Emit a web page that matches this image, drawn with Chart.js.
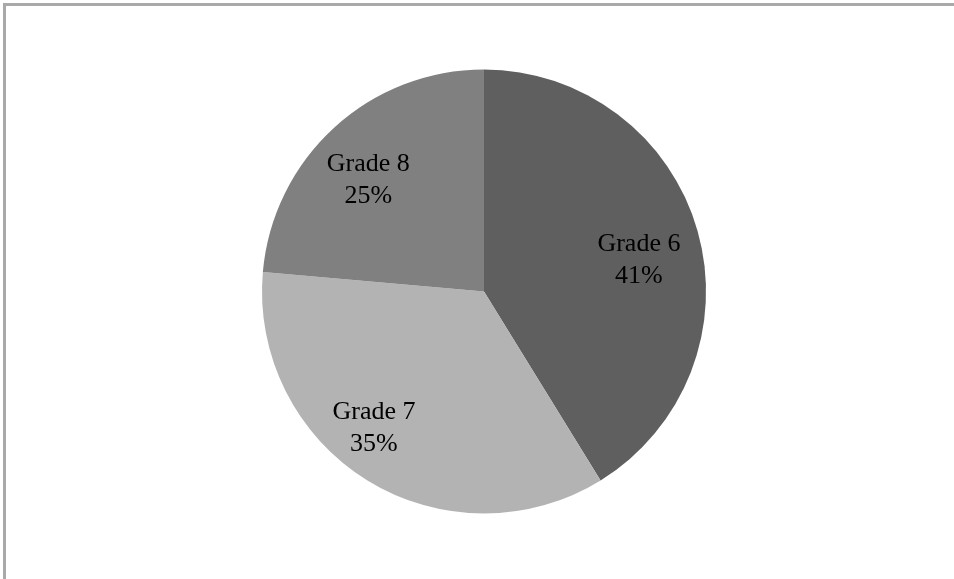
<!DOCTYPE html>
<html>
<head>
<meta charset="utf-8">
<script src="https://cdn.jsdelivr.net/npm/chart.js@4.4.1/dist/chart.umd.min.js"></script>
<style>
  html, body { margin: 0; padding: 0; background: #fff; overflow: hidden; }
  #wrap { position: absolute; left: 0; top: 0; width: 954px; height: 579px; }
  #frame { position: absolute; left: 3px; top: 3px; width: 1000px; height: 700px;
           border-top: 3px solid #a9a9a9; border-left: 3px solid #a9a9a9; box-sizing: border-box; }
  canvas { position: absolute; left: 0; top: 0; }
</style>
</head>
<body>
<div id="wrap">
  <div id="frame"></div>
  <canvas id="c" width="954" height="579"></canvas>
</div>
<script>
// Data
const categories = ["Grade 6", "Grade 7", "Grade 8"];
const shares = [41.2, 35.2, 23.6];            // slice sizes as drawn
const percentLabels = ["41%", "35%", "25%"];  // percentages as printed

// Styling
const sliceColors = ["#5f5f5f", "#b3b3b3", "#808080"];
// label placement: angle (deg, screen coords from +x) and radius fraction
const labelAngles = [-12.2, 129.1, 224.4];
const labelRadii = [0.714, 0.786, 0.73];

const labelPlugin = {
  id: 'twoLineLabels',
  afterDatasetsDraw(chart) {
    const ctx = chart.ctx;
    const meta = chart.getDatasetMeta(0);
    ctx.save();
    ctx.font = '26px "Liberation Serif", "Times New Roman", serif';
    ctx.fillStyle = '#000';
    ctx.textAlign = 'center';
    ctx.textBaseline = 'alphabetic';
    meta.data.forEach((arc, i) => {
      const p = arc.getProps(['x', 'y', 'outerRadius'], true);
      const a = labelAngles[i] * Math.PI / 180;
      const r = p.outerRadius * labelRadii[i];
      const cx = p.x + Math.cos(a) * r;
      const cy = p.y + Math.sin(a) * r;
      ctx.fillText(categories[i], cx, cy - 7.5);
      ctx.fillText(percentLabels[i], cx, cy + 24.5);
    });
    ctx.restore();
  }
};

new Chart(document.getElementById('c'), {
  type: 'pie',
  data: {
    labels: categories,
    datasets: [{
      data: shares,
      backgroundColor: sliceColors,
      borderWidth: 0
    }]
  },
  options: {
    responsive: false,
    animation: false,
    layout: { padding: { left: 262, right: 248, top: 69.5, bottom: 65.5 } },
    plugins: {
      legend: { display: false },
      tooltip: { enabled: false }
    }
  },
  plugins: [labelPlugin]
});
</script>
</body>
</html>
